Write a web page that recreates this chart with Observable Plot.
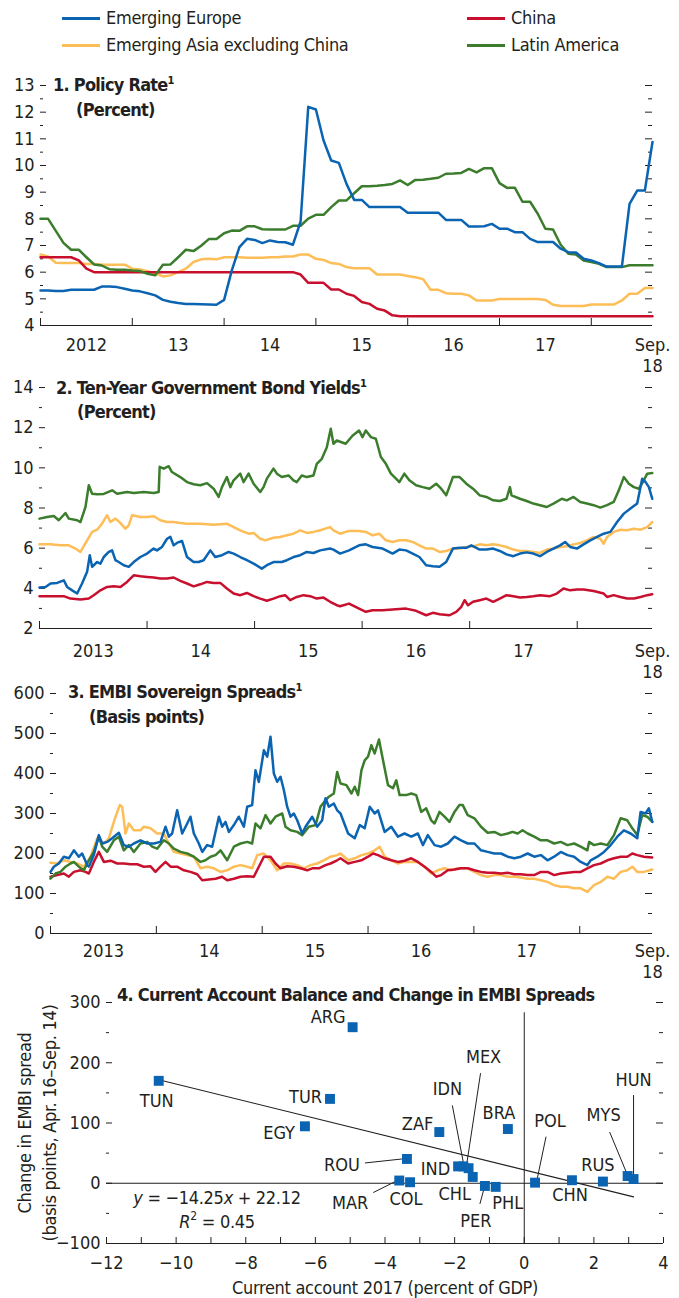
<!DOCTYPE html>
<html><head><meta charset="utf-8">
<script src="https://cdn.jsdelivr.net/npm/d3@7"></script>
<script src="https://cdn.jsdelivr.net/npm/@observablehq/plot@0.6"></script>
<style>
html,body{margin:0;padding:0;background:#fff;}
#root{position:relative;width:679px;height:1298px;overflow:hidden;font-family:"Liberation Sans Narrow","Arial Narrow","DejaVu Sans Condensed",Roboto,sans-serif;font-size:18px;color:#231f20;}
.abs{position:absolute;white-space:nowrap;line-height:22px;letter-spacing:-0.3px;}
.bold{font-weight:bold;letter-spacing:-0.75px;}
sup{font-size:11px;vertical-align:7px;line-height:0;letter-spacing:0;}
</style></head><body><div id="root"></div>
<script>
// ---------- DATA ----------
const seriesNames = ["Emerging Europe", "Emerging Asia excluding China", "China", "Latin America"];
const seriesColors = ["#0a64b2", "#fdbd57", "#c8102e", "#3b7d2d"];

// Panel 1: policy rate (percent), monthly, Jan. 2012 .. Sep. 2018
const policyEurope = [5.31,5.31,5.29,5.29,5.34,5.34,5.34,5.34,5.46,5.46,5.44,5.38,5.31,5.28,5.21,5.13,4.96,4.89,4.84,4.81,4.81,4.80,4.79,4.78,4.96,6.06,6.94,7.25,7.21,7.09,7.19,7.13,7.12,7.03,7.90,12.20,12.10,10.94,10.19,10.10,9.31,8.71,8.71,8.44,8.44,8.44,8.44,8.44,8.23,8.23,8.23,8.23,8.23,7.96,7.96,7.96,7.71,7.71,7.72,7.81,7.63,7.63,7.50,7.50,7.25,7.13,7.13,7.13,6.88,6.75,6.74,6.50,6.44,6.34,6.21,6.21,6.21,8.56,9.06,9.06,10.88];
const policyAsia = [6.66,6.59,6.35,6.34,6.34,6.34,6.31,6.31,6.29,6.28,6.28,6.28,6.13,6.10,6.04,5.96,5.84,5.88,6.00,6.13,6.38,6.48,6.50,6.48,6.56,6.56,6.56,6.54,6.54,6.54,6.56,6.56,6.59,6.59,6.66,6.66,6.50,6.46,6.34,6.31,6.19,6.15,6.15,6.15,5.91,5.91,5.91,5.91,5.86,5.81,5.74,5.34,5.34,5.21,5.19,5.19,5.13,4.94,4.94,4.94,4.99,4.99,4.99,4.99,4.99,4.99,4.96,4.78,4.73,4.73,4.73,4.73,4.79,4.79,4.79,4.79,4.94,5.19,5.19,5.41,5.41];
const policyChina = [6.56,6.56,6.56,6.56,6.56,6.44,6.13,6.00,6.00,6.00,6.00,6.00,6.00,6.00,6.00,6.00,6.00,6.00,6.00,6.00,6.00,6.00,6.00,6.00,6.00,6.00,6.00,6.00,6.00,6.00,6.00,6.00,6.00,6.00,5.91,5.60,5.60,5.60,5.35,5.35,5.19,5.11,4.88,4.81,4.63,4.56,4.38,4.35,4.35,4.35,4.35,4.35,4.35,4.35,4.35,4.35,4.35,4.35,4.35,4.35,4.35,4.35,4.35,4.35,4.35,4.35,4.35,4.35,4.35,4.35,4.35,4.35,4.35,4.35,4.35,4.35,4.35,4.35,4.35,4.35,4.35];
const policyLatam = [8.00,8.00,7.55,7.10,6.84,6.84,6.56,6.29,6.25,6.11,6.09,6.09,6.06,6.04,5.94,5.88,6.28,6.29,6.56,6.84,6.79,6.99,7.24,7.24,7.46,7.56,7.55,7.72,7.72,7.61,7.60,7.60,7.60,7.74,7.74,8.01,8.15,8.15,8.44,8.69,8.69,8.96,9.22,9.22,9.24,9.27,9.31,9.44,9.27,9.46,9.47,9.50,9.54,9.69,9.70,9.72,9.87,9.74,9.90,9.90,9.34,9.16,9.17,8.64,8.64,8.19,7.63,7.60,7.03,6.69,6.66,6.44,6.38,6.31,6.19,6.19,6.19,6.26,6.26,6.26,6.26];
const policyYearLabels = ["2012","13","14","15","16","17","Sep.\n18"];

// Panel 2: ten-year yields (percent); [months since Jan. 2013, value]
const yieldEurope = [[0,4.04],[0.67,4.07],[1.23,4.24],[1.97,4.27],[2.71,4.4],[3.08,4.07],[3.64,3.9],[4.2,3.74],[4.75,4.24],[5.31,4.82],[5.61,5.65],[5.87,5.07],[6.43,5.31],[6.8,5.23],[7.17,5.56],[7.73,5.81],[8.1,5.89],[8.47,5.4],[8.84,5.31],[9.4,5.15],[9.96,5.07],[10.51,5.31],[11.26,5.56],[12.0,5.73],[12.74,5.98],[13.11,5.89],[13.67,6.06],[14.23,6.47],[14.6,6.56],[14.97,6.14],[15.34,6.26],[15.9,6.36],[16.46,5.56],[17.2,5.31],[17.76,5.31],[18.31,5.4],[19.06,5.89],[19.61,5.56],[20.36,5.65],[21.1,5.81],[21.66,5.73],[22.4,5.56],[23.14,5.4],[23.89,5.23],[24.81,4.98],[25.37,5.15],[26.11,5.31],[27.04,5.31],[27.6,5.4],[28.34,5.56],[29.09,5.65],[29.83,5.81],[30.57,5.76],[31.32,5.89],[32.43,5.98],[32.8,5.93],[33.54,5.73],[34.54,5.89],[35.66,6.14],[36.41,6.19],[37.16,6.06],[38.28,5.98],[39.4,5.73],[40.15,5.93],[40.9,5.89],[41.64,5.73],[42.39,5.56],[43.14,5.15],[43.89,5.1],[44.64,5.07],[45.38,5.31],[46.13,5.98],[46.88,6.02],[47.63,6.02],[48.19,6.14],[49.12,5.93],[49.87,5.93],[50.62,5.98],[51.36,5.86],[52.11,5.69],[52.86,5.6],[53.61,5.73],[54.36,5.79],[55.1,5.73],[55.85,5.6],[56.6,5.81],[57.35,5.98],[58.09,6.14],[58.65,6.31],[59.21,6.06],[59.96,5.98],[60.71,6.19],[61.46,6.39],[62.21,6.56],[62.95,6.72],[63.7,6.81],[64.45,7.3],[65.2,7.72],[65.94,7.97],[66.69,8.22],[67.25,9.46],[67.63,9.29],[68.0,9.04],[68.37,8.46]];
const yieldAsia = [[0,6.19],[1.23,6.19],[2.34,6.14],[3.27,6.14],[4.01,5.98],[4.57,5.81],[5.31,6.39],[5.87,6.81],[6.43,6.92],[6.98,7.22],[7.54,7.64],[7.91,7.3],[8.47,7.47],[9.03,7.25],[9.58,6.97],[9.96,7.14],[10.33,7.64],[11.26,7.55],[12.0,7.55],[12.74,7.59],[13.48,7.39],[14.23,7.3],[14.97,7.3],[15.71,7.25],[16.46,7.22],[17.94,7.22],[19.43,7.17],[20.91,7.22],[21.66,7.05],[22.4,6.89],[23.33,6.72],[23.89,6.76],[24.63,6.47],[25.19,6.39],[26.11,6.52],[26.86,6.56],[27.6,6.64],[28.34,6.72],[29.09,6.89],[29.83,6.76],[30.57,6.81],[31.32,6.89],[32.43,7.05],[32.8,6.89],[33.54,6.72],[34.54,6.86],[35.66,6.86],[36.41,6.81],[37.16,6.64],[37.91,6.72],[38.65,6.39],[39.4,6.31],[40.15,6.39],[40.9,6.39],[41.64,6.31],[42.39,6.14],[43.14,5.98],[43.89,5.98],[44.64,5.81],[45.38,5.86],[46.13,5.98],[46.88,5.98],[47.63,6.06],[48.37,6.09],[49.12,6.19],[49.87,6.14],[50.62,6.19],[51.36,6.14],[52.11,6.06],[52.86,5.93],[53.61,5.86],[54.36,5.86],[55.1,5.81],[55.85,5.76],[56.6,5.93],[57.35,5.98],[58.09,6.06],[58.84,6.09],[59.59,6.19],[60.34,6.26],[61.08,6.39],[61.83,6.56],[62.58,6.47],[62.95,6.22],[63.33,6.56],[64.07,6.81],[64.82,6.92],[65.57,6.89],[66.32,6.97],[67.07,6.92],[67.81,7.05],[68.37,7.3]];
const yieldChina = [[0,3.61],[1.23,3.61],[2.71,3.61],[3.45,3.49],[4.57,3.44],[5.5,3.49],[6.05,3.66],[6.8,3.9],[7.54,4.07],[8.28,4.1],[9.03,4.07],[9.77,4.32],[10.51,4.65],[11.26,4.6],[12.0,4.57],[12.74,4.54],[13.48,4.49],[14.23,4.49],[14.97,4.54],[15.71,4.37],[16.46,4.24],[17.2,4.1],[17.94,4.2],[18.69,4.32],[19.43,4.27],[20.17,4.27],[20.91,3.99],[21.66,3.74],[22.4,3.66],[23.14,3.77],[23.89,3.61],[24.63,3.49],[25.37,3.38],[26.11,3.49],[26.86,3.61],[27.41,3.66],[27.97,3.41],[28.71,3.57],[29.46,3.66],[30.2,3.61],[30.94,3.49],[31.69,3.54],[32.43,3.33],[33.17,3.16],[33.54,3.11],[34.54,3.24],[35.66,2.99],[36.41,2.83],[37.16,2.91],[38.28,2.91],[39.4,2.94],[40.9,2.99],[42.02,2.88],[43.14,2.66],[43.89,2.78],[44.64,2.71],[45.76,2.66],[46.5,2.83],[47.07,3.08],[47.44,3.41],[47.81,3.16],[48.37,3.33],[49.12,3.41],[49.87,3.49],[50.62,3.33],[51.36,3.49],[52.11,3.66],[52.86,3.61],[53.61,3.54],[54.36,3.57],[55.1,3.61],[55.85,3.66],[56.97,3.61],[57.72,3.74],[58.47,3.99],[59.21,3.9],[59.96,3.94],[60.71,3.94],[61.83,3.87],[62.95,3.74],[63.33,3.57],[64.07,3.66],[64.82,3.57],[65.57,3.49],[66.32,3.49],[67.07,3.57],[67.81,3.66],[68.37,3.71]];
const yieldLatam = [[0,7.47],[0.85,7.55],[1.6,7.6],[2.15,7.39],[2.9,7.75],[3.27,7.47],[4.2,7.39],[4.57,7.3],[5.13,8.05],[5.5,9.13],[5.87,8.71],[6.43,8.68],[7.17,8.7],[8.1,8.88],[8.66,8.71],[9.77,8.8],[10.51,8.75],[11.63,8.8],[12.74,8.75],[13.3,8.8],[13.41,10.05],[13.86,9.96],[14.41,10.08],[14.78,9.79],[15.71,9.54],[16.46,9.29],[17.2,9.18],[17.94,9.13],[18.69,9.24],[19.43,8.96],[19.99,8.55],[20.36,9.04],[20.91,9.54],[21.29,9.04],[21.66,9.38],[22.4,9.71],[22.77,9.29],[23.33,9.71],[23.89,9.21],[24.63,8.8],[25.0,9.04],[25.37,9.46],[26.11,9.96],[26.49,9.71],[27.04,9.54],[27.79,9.62],[28.34,9.38],[28.71,9.29],[29.27,9.62],[29.83,9.54],[30.57,9.62],[30.94,10.2],[31.5,10.45],[32.06,11.03],[32.5,11.95],[32.8,11.2],[33.17,11.36],[34.17,11.2],[34.92,11.6],[35.66,11.86],[36.04,11.53],[36.41,11.86],[36.97,11.53],[37.53,11.45],[38.09,10.54],[38.65,10.2],[39.21,9.71],[39.78,9.46],[40.15,9.29],[40.71,9.71],[41.27,9.38],[42.02,9.13],[42.77,9.04],[43.51,8.96],[44.26,9.21],[44.82,8.96],[45.38,8.63],[46.13,9.54],[46.88,9.54],[47.63,9.21],[48.37,8.96],[49.12,8.63],[49.87,8.55],[50.62,8.38],[51.36,8.35],[52.11,8.46],[52.49,9.04],[52.67,8.63],[53.61,8.46],[54.36,8.35],[55.1,8.22],[55.85,8.14],[56.6,8.05],[57.35,8.22],[58.28,8.46],[58.84,8.38],[59.59,8.55],[60.34,8.3],[61.08,8.22],[61.83,8.14],[62.58,8.02],[63.33,8.14],[64.07,8.3],[64.64,8.88],[65.2,9.54],[65.76,9.21],[66.32,9.04],[66.88,8.96],[67.44,9.38],[67.81,9.71],[68.37,9.74]];
const dailyYearLabels = ["2013","14","15","16","17","Sep.\n18"];

// Panel 3: EMBI spreads (basis points); [months since Jan. 2013, value]
const embiEurope = [[0,154],[0.38,167],[0.94,175],[1.51,192],[2.08,188],[2.65,208],[3.21,192],[3.59,200],[4.16,171],[4.35,167],[4.91,196],[5.48,246],[5.86,225],[6.42,229],[6.99,238],[7.75,252],[8.31,221],[8.88,217],[9.45,225],[10.2,233],[10.96,225],[11.72,225],[12.47,229],[13.04,267],[13.42,242],[13.79,250],[14.36,308],[14.93,250],[15.5,275],[15.87,292],[16.25,250],[16.82,225],[17.2,204],[17.76,221],[18.33,217],[19.09,292],[19.46,267],[19.84,279],[20.22,254],[20.79,271],[21.35,292],[21.92,267],[22.3,317],[22.86,321],[23.24,408],[23.62,379],[24.19,458],[24.57,442],[24.94,492],[25.32,400],[25.7,379],[26.08,392],[26.46,358],[26.83,317],[27.21,292],[27.59,300],[27.97,283],[28.53,250],[28.91,267],[29.67,292],[30.23,267],[30.8,283],[31.18,338],[31.56,317],[32.12,325],[32.5,308],[32.88,300],[33.74,250],[34.49,238],[35.06,271],[35.62,263],[36.19,317],[36.75,300],[37.13,308],[37.88,254],[38.64,267],[39.39,242],[40.14,250],[40.9,242],[41.65,250],[42.22,221],[42.78,246],[43.54,221],[44.29,217],[45.04,225],[45.8,242],[46.55,233],[47.3,225],[48.06,225],[48.81,208],[49.56,204],[50.32,200],[51.07,200],[51.83,192],[52.58,188],[53.33,192],[54.09,200],[54.84,192],[55.59,196],[56.35,183],[57.1,192],[57.85,204],[58.61,196],[59.36,192],[60.11,179],[60.87,171],[61.24,183],[62.0,192],[62.75,204],[63.51,221],[64.26,242],[65.01,258],[65.77,250],[66.52,238],[66.9,304],[67.46,300],[67.84,313],[68.22,279]];
const embiAsia = [[0,177],[0.76,175],[1.51,183],[2.27,179],[3.02,175],[3.78,167],[4.54,192],[5.29,238],[6.05,225],[6.61,238],[7.37,292],[7.86,321],[8.13,317],[8.5,250],[8.88,275],[9.45,258],[10.2,258],[10.58,267],[11.34,263],[12.09,250],[12.85,250],[13.42,225],[13.98,204],[14.74,200],[15.5,196],[16.25,192],[17.01,163],[17.76,167],[18.52,163],[19.27,154],[20.03,158],[20.79,167],[21.54,171],[22.3,167],[22.86,163],[23.43,196],[24.19,200],[24.94,183],[25.7,158],[26.46,175],[27.21,175],[27.97,171],[28.72,163],[29.48,171],[30.23,175],[30.99,183],[31.75,192],[32.5,196],[32.88,200],[33.74,183],[34.49,188],[35.25,196],[36,200],[36.75,208],[37.32,217],[37.88,192],[38.64,183],[39.39,175],[40.14,179],[40.9,179],[41.65,179],[42.41,167],[43.16,150],[43.91,158],[44.67,163],[45.42,158],[46.17,163],[47.3,163],[48.06,154],[48.81,146],[49.56,142],[50.32,146],[51.07,146],[51.83,142],[52.58,142],[53.33,140],[54.09,137],[54.84,137],[55.59,133],[56.35,129],[57.1,121],[57.85,117],[58.61,117],[59.36,113],[60.11,113],[60.87,104],[61.62,121],[62.38,129],[63.13,142],[63.88,137],[64.64,154],[65.39,158],[65.96,167],[66.52,154],[67.27,154],[68.22,160]];
const embiChina = [[0,142],[0.76,146],[1.51,150],[2.08,142],[2.65,154],[3.4,158],[3.97,154],[4.35,150],[4.91,179],[5.48,204],[6.05,179],[6.8,182],[7.56,175],[8.31,175],[9.07,173],[9.83,173],[10.58,167],[11.34,168],[11.9,154],[12.47,167],[13.04,179],[13.61,167],[14.36,167],[15.12,158],[15.87,154],[16.63,148],[17.2,133],[17.95,135],[18.71,137],[19.46,142],[20.03,133],[20.79,137],[21.54,142],[22.3,143],[23.05,142],[23.62,167],[24.19,192],[24.94,192],[25.51,175],[26.08,163],[26.83,168],[27.59,167],[28.34,163],[29.1,158],[29.67,163],[30.42,163],[31.18,171],[31.75,175],[32.5,183],[32.88,188],[33.74,175],[34.49,179],[35.25,183],[36,192],[36.57,200],[37.13,196],[37.88,188],[38.64,183],[39.39,179],[40.14,182],[40.9,188],[41.65,179],[42.41,167],[43.16,154],[43.72,142],[44.29,146],[45.04,158],[45.8,160],[46.55,163],[47.3,163],[48.06,158],[48.81,154],[49.56,152],[50.32,152],[51.07,150],[51.83,152],[52.58,148],[53.33,148],[54.09,146],[54.84,146],[55.59,154],[56.35,154],[57.1,146],[57.85,150],[58.61,152],[59.36,154],[60.11,154],[60.87,163],[61.62,171],[62.38,175],[63.13,183],[63.88,188],[64.64,192],[65.39,192],[65.96,200],[66.52,196],[67.27,192],[68.22,190]];
const embiLatam = [[0,137],[0.57,150],[1.13,154],[1.7,167],[2.27,175],[2.65,179],[3.21,167],[3.78,158],[4.35,183],[4.91,204],[5.48,242],[5.86,217],[6.42,204],[7.18,233],[7.75,242],[8.31,208],[8.88,221],[9.45,204],[10.2,225],[10.96,229],[11.53,217],[12.09,212],[12.85,233],[13.42,225],[13.98,212],[14.74,204],[15.5,200],[16.25,192],[17.01,179],[17.57,183],[18.14,192],[18.71,196],[19.27,208],[20.03,183],[20.79,217],[21.54,225],[22.3,229],[22.86,225],[23.24,275],[23.81,263],[24.38,296],[24.94,275],[25.51,292],[26.27,300],[26.64,267],[27.21,258],[27.97,254],[28.53,246],[29.29,267],[30.05,271],[30.61,317],[31.18,333],[31.56,342],[32.12,350],[32.5,404],[32.88,375],[33.55,371],[34.12,350],[34.49,367],[34.87,346],[35.25,408],[35.62,433],[36.0,442],[36.38,471],[36.75,450],[37.24,485],[37.7,433],[38.26,371],[38.83,363],[39.2,383],[39.58,346],[40.33,346],[40.9,350],[41.46,346],[42.03,304],[42.59,313],[43.16,283],[43.54,275],[44.1,304],[44.67,292],[45.23,279],[45.8,304],[46.36,321],[46.74,321],[47.3,296],[48.06,288],[48.81,267],[49.56,252],[50.32,254],[51.07,246],[51.83,250],[52.39,254],[52.96,250],[53.52,258],[54.09,250],[54.84,242],[55.59,233],[56.35,233],[57.1,225],[57.85,229],[58.61,221],[59.36,225],[60.11,217],[60.87,208],[61.06,229],[61.62,221],[62.38,225],[63.13,221],[63.88,246],[64.64,288],[65.39,283],[65.96,263],[66.52,246],[67.08,296],[67.65,292],[68.22,279]];

// Panel 4: scatter
const countries = ["TUN","EGY","TUR","ARG","ZAF","BRA","ROU","MAR","COL","IND","IDN","MEX","CHL","PER","PHL","POL","CHN","RUS","MYS","HUN"];
const currentAccount2017 = [-10.5,-6.3,-5.58,-4.93,-2.44,-0.47,-3.37,-3.59,-3.28,-1.9,-1.75,-1.6,-1.48,-1.13,-0.82,0.31,1.37,2.26,2.97,3.14];
const embiChange = [170,94.5,140,259,85,90,40.3,4.5,1.7,28,28,25,10.5,-4.5,-6,1,5,2.8,12,7];
const fitSlope = -14.25, fitIntercept = 22.12, fitR2 = 0.45;

// ---------- LAYOUT / STYLE ----------
const FONT = '"Liberation Sans Narrow","Arial Narrow","DejaVu Sans Condensed",Roboto,sans-serif';
const INK = "#231f20";
const W = 679;
const root = document.getElementById("root");

function place(html, left, cy, opts = {}) {
  const d = document.createElement("div");
  d.className = "abs" + (opts.bold ? " bold" : "");
  d.innerHTML = html;
  d.style.left = left + "px";
  d.style.top = (cy - 11) + "px";
  if (opts.center) d.style.transform = "translateX(-50%)";
  root.appendChild(d);
  return d;
}

function mount(svg, top) {
  svg.style.position = "absolute";
  svg.style.left = "0px";
  svg.style.top = top + "px";
  root.appendChild(svg);
}

function timePanel(p) {
  const height = p.mt + p.plotH + p.mb;
  const [x0, x1] = p.xDomain;
  const y0 = p.yDomain[0];
  const fmt = new Map(p.labelTicks.map((t, i) => [t, p.labelText[i]]));
  const marks = [
    Plot.ruleY(p.yMajor, {y: d => d, x1: x0, x2: x0, insetRight: -6, stroke: INK}),
    Plot.ruleY(p.yMinor, {y: d => d, x1: x0, x2: x0, insetRight: -3, stroke: INK}),
    Plot.ruleY(p.yMajor, {y: d => d, x1: x1, x2: x1, insetLeft: -7, stroke: INK}),
    Plot.ruleY(p.yMinor, {y: d => d, x1: x1, x2: x1, insetLeft: -4, stroke: INK}),
    Plot.axisY({ticks: p.yMajor, tickSize: 0, tickPadding: 6, label: null, fontSize: 18}),
    Plot.axisX({ticks: p.labelTicks, tickSize: 0, tickPadding: p.labelPad, tickFormat: d => fmt.get(d), label: null, fontSize: 18, lineHeight: 1.2}),
    ...p.series.map(s => Plot.line(s.data, {x: d => d[0], y: d => d[1], stroke: s.color, strokeWidth: 2.5})),
    Plot.ruleY([y0], {stroke: INK, strokeWidth: 1.2}),
    Plot.ruleX(p.yearTicks, {x: d => d, y1: y0, y2: y0, insetBottom: 7, stroke: INK})
  ];
  const svg = Plot.plot({
    width: W, height, marginTop: p.mt, marginBottom: p.mb, marginLeft: p.ml, marginRight: p.mr,
    x: {domain: p.xDomain}, y: {domain: p.yDomain},
    style: {fontFamily: FONT, fontSize: "18px", color: INK, background: "none", overflow: "visible"},
    marks
  });
  mount(svg, p.top);
}

const idx = arr => arr.map((v, i) => [i, v]);
const order = [1, 2, 3, 0]; // draw Asia, China, Latin America, then Europe on top

function seriesList(arrs) {
  return order.map(k => ({data: arrs[k], color: seriesColors[k]}));
}

// Panel 1
timePanel({
  top: 70, mt: 15, plotH: 240, mb: 45, ml: 40, mr: 27,
  xDomain: [0, 80], yDomain: [4, 13],
  yMajor: d3.range(4, 14), yMinor: d3.range(4.5, 13, 1),
  yearTicks: [0, 12, 24, 36, 48, 60, 72],
  labelTicks: [6, 18, 30, 42, 54, 66, 80], labelText: policyYearLabels, labelPad: 10,
  series: seriesList([idx(policyEurope), idx(policyAsia), idx(policyChina), idx(policyLatam)])
});

// Panel 2
timePanel({
  top: 372, mt: 15, plotH: 241, mb: 60, ml: 39, mr: 27,
  xDomain: [0, 68.4], yDomain: [2, 14],
  yMajor: d3.range(2, 15, 2), yMinor: d3.range(3, 14, 2),
  yearTicks: [0, 12, 24, 36, 48, 60],
  labelTicks: [6, 18, 30, 42, 54, 68.4], labelText: dailyYearLabels, labelPad: 13,
  series: seriesList([yieldEurope, yieldAsia, yieldChina, yieldLatam])
});

// Panel 3
timePanel({
  top: 678, mt: 15, plotH: 240, mb: 60, ml: 50, mr: 27,
  xDomain: [0, 68.25], yDomain: [0, 600],
  yMajor: d3.range(0, 601, 100), yMinor: d3.range(50, 600, 100),
  yearTicks: [0, 12, 24, 36, 48, 60],
  labelTicks: [6, 18, 30, 42, 54, 68.25], labelText: dailyYearLabels, labelPad: 8,
  series: seriesList([embiEurope, embiAsia, embiChina, embiLatam])
});

// Panel 4
const p4 = {top: 990, mt: 12, plotH: 241, mb: 40, ml: 106, mr: 16};
const p4x = [-12, 4], p4y = [-100, 300];
const kx = (W - p4.ml - p4.mr) / (p4x[1] - p4x[0]);
const ky = p4.plotH / (p4y[1] - p4y[0]);
const pts = countries.map((c, i) => ({c, x: currentAccount2017[i], y: embiChange[i]}));
// label placement (pixel offsets of text from its square) and leader lines
const labelPos = {
  TUN: ["middle", -2, 20], EGY: ["end", -10, 7], TUR: ["end", -8, -2], ARG: ["end", -7, -10],
  ZAF: ["end", -6, -8], BRA: ["middle", -9, -16], ROU: ["end", -47, 6], MAR: ["end", -31, 23],
  COL: ["middle", -4, 17], IND: ["end", -8, 3], IDN: ["middle", -16, -77], MEX: ["middle", 15, -111],
  CHL: ["middle", -18, 17], PER: ["middle", -9, 35], PHL: ["middle", 12, 16], POL: ["middle", 15, -61],
  CHN: ["middle", -2, 15], RUS: ["middle", -5, -16], MYS: ["middle", -24, -61], HUN: ["middle", 0, -99]
};
const leaderPos = {
  ROU: [-42, 4, -5, 0], MAR: [-26, 12, -4, 1], IDN: [-11, -61, 0, -4], MEX: [12, -95, -2, -3],
  PER: [-5, 18, -1, 3], POL: [11, -46, 2, -3], MYS: [-18, -44, -1, -3], HUN: [0, -84, 0, -3]
};
const off = (d, ox, oy) => [d.x + ox / kx, d.y - oy / ky];
const textData = pts.map(d => {
  const [a, ox, oy] = labelPos[d.c];
  const [x, y] = off(d, ox, oy);
  return {c: d.c, a, x, y};
});
const leaders = pts.filter(d => leaderPos[d.c]).map(d => {
  const [sx, sy, ex, ey] = leaderPos[d.c];
  const [x1, y1] = off(d, sx, sy), [x2, y2] = off(d, ex, ey);
  return {x1, y1, x2, y2};
});
const fitX = d3.extent(currentAccount2017);
const fitLine = fitX.map(x => ({x, y: fitSlope * x + fitIntercept}));
const zeroLineTop = 283;

{
  const height = p4.mt + p4.plotH + p4.mb;
  const yMajor = d3.range(-100, 301, 100), yMinor = d3.range(-50, 300, 100);
  const minus = d => d < 0 ? "\u2212" + Math.abs(d) : String(d);
  const svg = Plot.plot({
    width: W, height, marginTop: p4.mt, marginBottom: p4.mb, marginLeft: p4.ml, marginRight: p4.mr,
    x: {domain: p4x}, y: {domain: p4y},
    style: {fontFamily: FONT, fontSize: "18px", color: INK, background: "none", overflow: "visible"},
    marks: [
      Plot.ruleY(yMajor, {y: d => d, x1: p4x[0], x2: p4x[0], insetRight: -6, stroke: INK}),
      Plot.ruleY(yMinor, {y: d => d, x1: p4x[0], x2: p4x[0], insetRight: -3, stroke: INK}),
      Plot.ruleY(yMajor, {y: d => d, x1: p4x[1], x2: p4x[1], insetLeft: -7, stroke: INK}),
      Plot.ruleY(yMinor, {y: d => d, x1: p4x[1], x2: p4x[1], insetLeft: -4, stroke: INK}),
      Plot.axisY({ticks: yMajor, tickSize: 0, tickPadding: 6, label: null, fontSize: 18, tickFormat: minus}),
      Plot.axisX({ticks: d3.range(-12, 5, 2), tickSize: 0, tickPadding: 13, label: null, fontSize: 18, tickFormat: minus}),
      Plot.ruleY([p4y[0]], {stroke: INK, strokeWidth: 1.2}),
      Plot.ruleX(d3.range(-12, 5), {x: d => d, y1: p4y[0], y2: p4y[0], insetBottom: 6, stroke: INK}),
      Plot.ruleY([0], {stroke: INK, strokeWidth: 1}),
      Plot.ruleX([0], {y1: p4y[0], y2: zeroLineTop, stroke: INK, strokeWidth: 1}),
      Plot.line(fitLine, {x: "x", y: "y", stroke: INK, strokeWidth: 1.1}),
      Plot.link(leaders, {x1: "x1", y1: "y1", x2: "x2", y2: "y2", stroke: INK, strokeWidth: 1}),
      Plot.dot(pts, {x: "x", y: "y", symbol: "square", r: 5.6, fill: "#0a64b2", stroke: "none"}),
      Plot.text(textData.filter(d => d.a === "middle"), {x: "x", y: "y", text: "c", textAnchor: "middle", fontSize: 18, fill: INK}),
      Plot.text(textData.filter(d => d.a === "end"), {x: "x", y: "y", text: "c", textAnchor: "end", fontSize: 18, fill: INK})
    ]
  });
  mount(svg, p4.top);
}

// ---------- TEXT OVERLAYS ----------
// legend
const legendPos = [[62, 18], [62, 45], [467, 18], [467, 45]];
seriesNames.forEach((n, i) => {
  const [lx, cy] = legendPos[i];
  place(`<span style="display:inline-block;width:38px;height:3px;background:${seriesColors[i]};vertical-align:middle;margin-right:6px;position:relative;top:-1px"></span>${n}`, lx, cy);
});

place("1. Policy Rate<sup>1</sup>", 53, 85, {bold: true});
place("(Percent)", 76, 110, {bold: true});
place("2. Ten-Year Government Bond Yields<sup>1</sup>", 56, 388, {bold: true});
place("(Percent)", 77, 412, {bold: true});
place("3. EMBI Sovereign Spreads<sup>1</sup>", 68, 692, {bold: true});
place("(Basis points)", 89, 717, {bold: true});
place("4. Current Account Balance and Change in EMBI Spreads", 117, 995, {bold: true});

place(`<i>y</i> = \u221214.25<i>x</i> + 22.12`, 217, 1198, {center: true});
place(`<i>R</i><sup style="font-size:12px;vertical-align:8px">2</sup> = ${fitR2.toFixed(2)}`, 217, 1222, {center: true});
place("Current account 2017 (percent of GDP)", 385, 1288, {center: true});

function vlabel(txt, cx, cy) {
  const d = document.createElement("div");
  d.className = "abs";
  d.textContent = txt;
  d.style.left = cx + "px";
  d.style.top = cy + "px";
  d.style.transform = "translate(-50%,-50%) rotate(-90deg)";
  root.appendChild(d);
}
vlabel("Change in EMBI spread", 25, 1123);
vlabel("(basis points, Apr. 16\u2013Sep. 14)", 50, 1123);
</script></body></html>
